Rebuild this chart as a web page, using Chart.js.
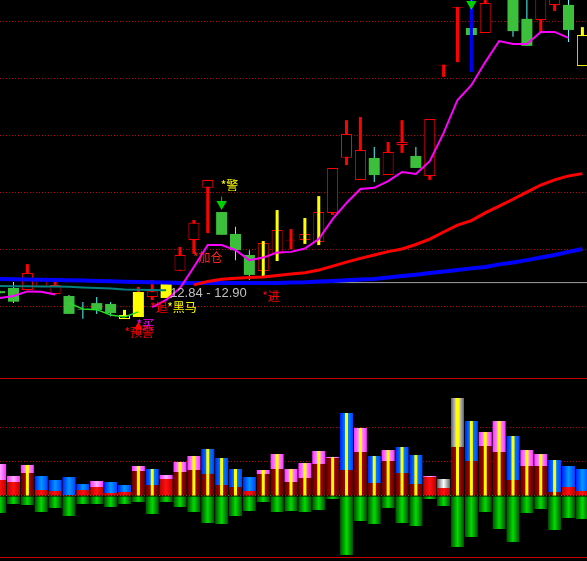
<!DOCTYPE html>
<html>
<head>
<meta charset="utf-8">
<script src="https://cdn.jsdelivr.net/npm/chart.js@4.4.1/dist/chart.umd.min.js"></script>
<style>
  html, body { margin: 0; padding: 0; background: #000; }
  #wrap { position: relative; width: 587px; height: 561px; overflow: hidden; background: #000; }
  canvas { position: absolute; left: 0; }
  #priceChart { top: 0; }
  #volChart { top: 378px; }
</style>
</head>
<body>
<div id="wrap">
  <canvas id="priceChart" width="587" height="378"></canvas>
  <canvas id="volChart" width="587" height="183"></canvas>
</div>
<script>
// Trading days, left to right (day 0 is cut by the left edge)
const days = [0, 1, 2, 3, 4, 5, 6, 7, 8, 9, 10, 11, 12, 13, 14, 15, 16, 17, 18, 19, 20,
  21, 22, 23, 24, 25, 26, 27, 28, 29, 30, 31, 32, 33, 34, 35, 36, 37, 38, 39, 40, 41, 42];

// Candles
const open  = [12.54, 12.65, 12.58, 12.69, 12.44, 12.37, 11.91, 12.12, 12.09, 11.56, 11.63,
  12.33, 12.30, 13.26, 14.34, 16.17, 15.32, 14.55, 13.81, 13.25, 13.85, 14.32, 14.34, 14.27,
  15.29, 17.23, 16.45, 17.22, 16.62, 17.68, 17.29, 16.59, 20.47, 22.50, 21.79, 21.61, 23.10,
  23.00, 22.11, 22.07, 22.60, 22.60, 20.45];
const high  = [12.58, 12.86, 13.49, 13.00, 13.00, 12.40, 12.16, 12.33, 12.16, 11.88, 12.69,
  12.93, 12.79, 14.09, 15.04, 16.45, 15.32, 14.80, 13.98, 14.23, 14.69, 14.72, 14.55, 15.32,
  16.87, 18.55, 18.66, 17.61, 17.78, 18.55, 17.61, 18.59, 20.50, 22.53, 21.79, 22.95, 23.80,
  23.10, 22.90, 23.10, 23.20, 22.90, 21.82];
const low   = [12.44, 12.12, 12.58, 12.69, 12.44, 11.74, 11.57, 11.74, 11.66, 11.56, 11.63,
  12.23, 12.30, 13.26, 13.85, 14.58, 14.52, 13.63, 12.93, 13.25, 13.85, 14.02, 14.34, 14.27,
  15.22, 16.97, 16.45, 16.38, 16.62, 17.40, 16.87, 16.45, 20.07, 20.59, 21.54, 21.61, 22.95,
  21.48, 21.16, 21.65, 22.39, 21.30, 20.45];
const close = [12.47, 12.17, 13.18, 12.97, 12.76, 11.74, 11.89, 11.88, 11.77, 11.70, 12.51,
  12.54, 12.79, 13.81, 14.94, 16.45, 14.52, 13.98, 13.11, 14.23, 14.69, 14.35, 14.55, 15.32,
  16.87, 18.06, 17.50, 16.62, 17.43, 17.78, 16.87, 18.59, 20.50, 22.53, 21.54, 22.67, 23.60,
  21.68, 21.16, 23.00, 23.00, 21.72, 21.54];

// Signal-coloured candles
const yellowSolid = [10, 12];
const yellowHollow = [9, 42];

// Moving averages
const maShort = [12.30, 12.37, 12.53, 12.52, 12.42, null, null, null, null, null, null,
  11.98, 12.23, 12.65, 13.39, 14.16, 14.16, 13.98, 13.63, 13.72, 13.90, 13.92, 14.04, 14.37,
  15.07, 15.64, 16.13, 16.17, 16.41, 16.73, 16.66, 17.11, 18.10, 19.26, 19.78, 20.59, 21.33,
  21.23, 21.23, 21.65, 21.65, 21.44, null];
const maShortWeak = [null, null, null, null, null, 12.12, 11.91, 11.89, 11.70, 11.63, 11.81,
  null, null, null, null, null, null, null, null, null, null, null, null, null, null, null,
  null, null, null, null, null, null, null, null, null, null, null, null, null, null, null,
  null, null];
const maMid = [null, null, null, null, null, null, null, null, null, null, null, null, null,
  null, 12.76, 12.88, 12.96, 12.99, 13.02, 13.04, 13.09, 13.14, 13.19, 13.28, 13.42, 13.56,
  13.69, 13.81, 13.93, 14.02, 14.18, 14.37, 14.62, 14.86, 15.02, 15.29, 15.53, 15.77, 16.02,
  16.27, 16.45, 16.59, 16.67];
const maLong = [12.97, 12.96, 12.95, 12.94, 12.93, 12.92, 12.91, 12.90, 12.89, 12.87, 12.86,
  12.85, 12.84, 12.83, 12.83, 12.83, 12.83, 12.83, 12.83, 12.83, 12.83, 12.84, 12.85, 12.88,
  12.90, 12.92, 12.95, 12.97, 13.02, 13.07, 13.12, 13.18, 13.23, 13.28, 13.34, 13.39, 13.48,
  13.55, 13.63, 13.72, 13.81, 13.92, 14.02];
const supportLine = [12.72, 12.71, 12.71, 12.70, 12.70, 12.69, 12.67, 12.65, 12.63, 12.60,
  12.59, 12.58, 12.57, null, null, null, null, null, null, null, null, null, null, null, null,
  null, null, null, null, null, null, null, null, null, null, null, null, null, null, null,
  null, null, null];
const levelLow = 12.84;
const levelHigh = 12.90;

// Indicator bars on the price panel
const pushDays = [19, 20, 22, 23];
const pushTop = [14.30, 15.39, 15.11, 15.88];
const pushBottom = [13.07, 13.60, 14.20, 14.16];
const breakDays = [34];
const breakTop = [23.00];
const breakBottom = [20.24];

// Arrows
const downArrowDays = [16, 34];
const downArrowPrice = [15.60, 22.63];
const downArrowStemTop = [15.87, 22.90];
const upArrowDays = [10];
const upArrowPrice = [11.29];

// Text tags
const tagText = ['*买', '*警', '*加仓', levelLow.toFixed(2) + ' - ' + levelHigh.toFixed(2),
  '*追', '*黑马', '*预警', '*进'];
const tagDay = [10, 16, 14, 12, 11, 12, 9, 19];
const tagPrice = [11.59, 16.45, 13.95, 12.69, 12.19, 12.19, 11.31, 12.58];

// Lower panel
const volCap = [47.1, 29.4, 45.6, 29.4, 23.5, 27.9, 17.6, 22.1, 20.6, 16.2, 44.1, 39.7, 30.9,
  50.0, 58.8, 69.1, 55.9, 39.7, 27.9, 38.2, 61.8, 39.7, 48.5, 66.2, 57.4, 122.1, 100.0, 58.8,
  67.6, 72.1, 60.3, 29.4, 25.0, 144.1, 110.3, 94.1, 110.3, 88.2, 67.6, 61.8, 52.9, 44.1, 39.7];
const volRed = [23.5, 20.6, 33.8, 8.8, 7.4, 1.5, 8.8, 13.2, 4.4, 5.9, 36.8, 16.2, 25.0, 35.3,
  38.2, 32.4, 16.2, 13.2, 7.4, 32.4, 39.7, 20.6, 26.5, 47.1, 55.9, 38.2, 64.7, 19.1, 51.5,
  33.8, 17.6, 27.9, 11.8, 72.1, 51.5, 73.5, 64.7, 23.5, 44.1, 44.1, 5.9, 13.2, 7.4];
const volGreen = [-25.0, -11.8, -13.2, -23.5, -17.6, -29.4, -11.8, -11.8, -16.2, -11.8, -8.8,
  -26.5, -8.8, -16.2, -23.5, -39.7, -41.2, -29.4, -22.1, -8.8, -23.5, -22.1, -23.5, -20.6,
  -4.4, -86.8, -36.8, -41.2, -17.6, -39.7, -44.1, -4.4, -14.7, -75.0, -60.3, -23.5, -48.5,
  -67.6, -25.0, -19.1, -50.0, -32.4, -33.8];
const capKind = ['p', 'p', 'p', 'b', 'b', 'b', 'b', 'p', 'b', 'b', 'p', 'b', 'p', 'p', 'p',
  'b', 'b', 'b', 'b', 'p', 'p', 'p', 'p', 'p', 'p', 'b', 'p', 'b', 'p', 'b', 'b', 'p', 'g',
  'g', 'b', 'p', 'p', 'b', 'p', 'p', 'b', 'b', 'b'];
const volStripe = [0, 0, 1, 0, 0, 0, 0, 0, 0, 0, 1, 1, 0, 1, 1, 1, 1, 1, 0, 1, 1, 1, 1, 1, 1,
  1, 1, 1, 1, 1, 1, 0, 0, 1, 1, 1, 1, 1, 1, 1, 1, 0, 0];

const priceGrid = [12, 14, 16, 18, 20, 22];
const volGrid = [0, 50, 100];

// axis ranges so that the panels line up with the picture
const X_MIN = 0.027, X_MAX = 42.333;
const P_MIN = 9.487, P_MAX = 22.773;
const V_MIN = -95.59, V_MAX = 173.53;

const GRID_RED = '#c00000';

function line(values) {
  return days.map((d, i) => ({ x: d, y: values[i] }));
}
function floating(lo, hi, pick) {
  return days.filter(pick).map(d => ({ x: d, y: [lo[d], hi[d]] }));
}
function bars(list, bottom, top) {
  return list.map((d, i) => ({ x: d, y: [bottom[i], top[i]] }));
}

const rising = d => close[d] >= open[d];
const isYellow = d => yellowSolid.includes(d) || yellowHollow.includes(d);

const barBase = { type: 'bar', grouped: false, borderSkipped: false, inflateAmount: 0 };

function hiddenX() {
  return { type: 'linear', min: X_MIN, max: X_MAX, display: false, offset: false };
}

const priceDatasets = [
  // wicks
  { ...barBase, data: floating(low, high, d => yellowHollow.includes(d)),
    backgroundColor: '#ffff00', barThickness: 3, order: 10 },
  { ...barBase, data: floating(low, high, d => rising(d) && !yellowHollow.includes(d)),
    backgroundColor: '#ff0000', barThickness: 3, order: 10 },
  { ...barBase, data: floating(low, high, d => !rising(d)),
    backgroundColor: '#54ffff', barThickness: 1, order: 10 },
  // bodies
  { ...barBase, data: floating(open, close, d => rising(d) && !isYellow(d)),
    backgroundColor: '#000000', borderColor: '#ff0000', borderWidth: 1, barThickness: 11, order: 9 },
  { ...barBase, data: floating(open, close, d => !rising(d) && !isYellow(d)),
    backgroundColor: '#3cc03c', borderWidth: 0, barThickness: 11, order: 9 },
  { ...barBase, data: floating(open, close, d => yellowSolid.includes(d)),
    backgroundColor: '#ffff00', borderWidth: 0, barThickness: 11, order: 9 },
  { ...barBase, data: floating(open, close, d => yellowHollow.includes(d)),
    backgroundColor: '#000000', borderColor: '#ffff00', borderWidth: 1, barThickness: 11, order: 9 },
  // indicator bars
  { ...barBase, data: bars(pushDays, pushBottom, pushTop),
    backgroundColor: '#ffff00', barThickness: 3, order: 7 },
  { ...barBase, data: bars(breakDays, breakBottom, breakTop),
    backgroundColor: '#0000ff', barThickness: 3, order: 7 },
  { ...barBase, data: bars(downArrowDays, downArrowPrice, downArrowStemTop),
    backgroundColor: '#00d000', barThickness: 1, order: 1 },
  // lines
  { type: 'line', data: [{ x: 12, y: levelLow }, { x: X_MAX, y: levelLow }],
    borderColor: '#a0a0a0', borderWidth: 1, pointRadius: 0, order: 6 },
  { type: 'line', data: line(supportLine), borderColor: '#008080', borderWidth: 2,
    pointRadius: 0, order: 5 },
  { type: 'line', data: line(maLong), borderColor: '#0000ff', borderWidth: 4,
    pointRadius: 0, order: 4 },
  { type: 'line', data: line(maMid), borderColor: '#ff0000', borderWidth: 3,
    pointRadius: 0, order: 3 },
  { type: 'line', data: line(maShortWeak), borderColor: '#20e020', borderWidth: 1.5,
    pointRadius: 0, order: 2 },
  { type: 'line', data: line(maShort), borderColor: '#ff00ff', borderWidth: 2,
    pointRadius: 0, order: 2 },
  // arrows
  { type: 'scatter', data: downArrowDays.map((d, i) => ({ x: d, y: downArrowPrice[i] })),
    pointStyle: 'triangle', pointRotation: 180, pointRadius: 6,
    pointBackgroundColor: '#00d000', pointBorderWidth: 0, order: 0 },
  { type: 'scatter', data: upArrowDays.map((d, i) => ({ x: d, y: upArrowPrice[i] })),
    pointStyle: 'triangle', pointRotation: 0, pointRadius: 5,
    pointBackgroundColor: '#ff0000', pointBorderWidth: 0, order: 0 }
];

const tagStyle = [
  { color: '#ff00ff', font: '12px "Noto Sans CJK SC"', dx: -2 },
  { color: '#ffff00', font: '12px "Noto Sans CJK SC"', dx: -1 },
  { color: '#ff2020', font: '12px "Noto Sans CJK SC"', dx: -1 },
  { color: '#c0c0c0', font: '13px "Liberation Sans"', dx: 4 },
  { color: '#ff0000', font: '12px "Noto Sans CJK SC"', dx: -2 },
  { color: '#ffff00', font: '12px "Noto Sans CJK SC"', dx: 1 },
  { color: '#ff0000', font: '12px "Noto Sans CJK SC"', dx: 0 },
  { color: '#ff0000', font: '12px "Noto Sans CJK SC"', dx: -1 }
];

const tagPlugin = {
  id: 'tags',
  afterDatasetsDraw(chart) {
    const ctx = chart.ctx;
    const xs = chart.scales.x, ys = chart.scales.y;
    ctx.save();
    ctx.textBaseline = 'top';
    ctx.textAlign = 'left';
    tagText.forEach((t, i) => {
      const st = tagStyle[i];
      ctx.font = st.font;
      ctx.fillStyle = st.color;
      ctx.fillText(t, xs.getPixelForValue(tagDay[i]) + st.dx, ys.getPixelForValue(tagPrice[i]));
    });
    ctx.restore();
  }
};

new Chart(document.getElementById('priceChart'), {
  type: 'bar',
  data: { datasets: priceDatasets },
  options: {
    responsive: false,
    animation: false,
    events: [],
    layout: { padding: 0, autoPadding: false },
    plugins: { legend: { display: false }, tooltip: { enabled: false } },
    scales: {
      x: hiddenX(),
      y: {
        type: 'linear', min: P_MIN, max: P_MAX,
        afterBuildTicks: s => { s.ticks = priceGrid.map(v => ({ value: v })); },
        afterFit: s => { s.width = 0; },
        ticks: { display: false },
        grid: { color: GRID_RED, lineWidth: 1, drawTicks: false },
        border: { display: false, dash: [1, 2] }
      }
    }
  },
  plugins: [tagPlugin]
});

// cylinder shading for the lower panel bars
const SHADES = {
  p: ['#ff30ff', '#ffb0ff', '#ff30ff'],
  b: ['#0020ff', '#0098ff', '#0040ff'],
  g: ['#606060', '#ffffff', '#606060'],
  redDark: ['#600000', '#c00000', '#600000'],
  red: ['#c00000', '#ff1010', '#c00000'],
  green: ['#005000', '#00dc00', '#005000']
};
function shade(pickStops) {
  return c => {
    const stops = pickStops(c);
    const ch = c.chart;
    if (c.type !== 'data' || !ch.chartArea || !c.raw) return stops[1];
    const cx = ch.scales.x.getPixelForValue(c.raw.x);
    const g = ch.ctx.createLinearGradient(cx - 6.5, 0, cx + 6.5, 0);
    g.addColorStop(0, stops[0]);
    g.addColorStop(0.5, stops[1]);
    g.addColorStop(1, stops[2]);
    return g;
  };
}

const zeros = days.map(() => 0);

const framePlugin = {
  id: 'frame',
  beforeDatasetsDraw(chart) {
    const ctx = chart.ctx;
    ctx.save();
    ctx.strokeStyle = '#c80000';
    ctx.lineWidth = 1;
    ctx.beginPath();
    ctx.moveTo(0, 0.5); ctx.lineTo(chart.width, 0.5);
    ctx.moveTo(0, 179.5); ctx.lineTo(chart.width, 179.5);
    ctx.stroke();
    ctx.restore();
  }
};

new Chart(document.getElementById('volChart'), {
  type: 'bar',
  data: {
    datasets: [
      { ...barBase, data: floating(zeros, volGreen, () => true), barThickness: 13,
        backgroundColor: shade(() => SHADES.green), order: 3 },
      { ...barBase, data: floating(zeros, volRed, () => true), barThickness: 13,
        backgroundColor: shade(c => volStripe[c.raw ? c.raw.x : 0] ? SHADES.redDark : SHADES.red),
        order: 2 },
      { ...barBase, data: floating(volRed, volCap, () => true), barThickness: 13,
        backgroundColor: shade(c => SHADES[capKind[c.raw ? c.raw.x : 0]]), order: 1 },
      { ...barBase, data: floating(zeros, volCap, d => volStripe[d] === 1), barThickness: 3,
        backgroundColor: '#ffff00', order: 0 }
    ]
  },
  options: {
    responsive: false,
    animation: false,
    events: [],
    layout: { padding: 0, autoPadding: false },
    plugins: { legend: { display: false }, tooltip: { enabled: false } },
    scales: {
      x: hiddenX(),
      y: {
        type: 'linear', min: V_MIN, max: V_MAX,
        afterBuildTicks: s => { s.ticks = volGrid.map(v => ({ value: v })); },
        afterFit: s => { s.width = 0; },
        ticks: { display: false },
        grid: {
          color: c => (c.tick && c.tick.value === 0) ? '#00b000' : GRID_RED,
          lineWidth: 1, drawTicks: false
        },
        border: { display: false, dash: [1, 2] }
      }
    }
  },
  plugins: [framePlugin]
});
</script>
</body>
</html>
